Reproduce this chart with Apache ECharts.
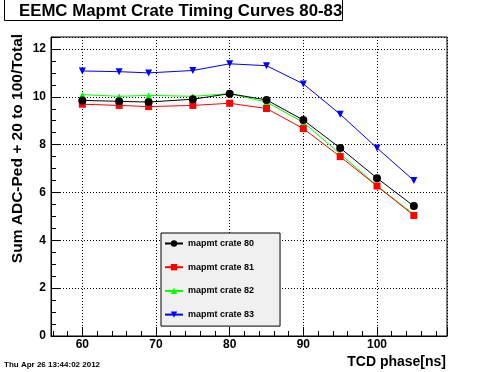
<!DOCTYPE html>
<html>
<head>
<meta charset="utf-8">
<script src="https://cdn.jsdelivr.net/npm/echarts@6/dist/echarts.min.js"></script>
<style>html,body{margin:0;padding:0;background:#fff}#c{width:496px;height:372px}</style>
</head>
<body>
<div id="c"></div>
<script>
const phase = [60, 65, 69, 75, 80, 85, 90, 95, 100, 105];
const crate80 = [9.85, 9.81, 9.78, 9.90, 10.13, 9.87, 9.03, 7.86, 6.60, 5.43];
const crate81 = [9.69, 9.64, 9.59, 9.64, 9.73, 9.51, 8.67, 7.50, 6.27, 5.04];
const crate82 = [10.09, 10.02, 10.06, 10.02, 10.13, 9.78, 8.93, 7.61, 6.28, 5.08];
const crate83 = [11.08, 11.05, 11.00, 11.10, 11.38, 11.30, 10.54, 9.27, 7.86, 6.50];
const seriesNames = ['mapmt crate 80', 'mapmt crate 81', 'mapmt crate 82', 'mapmt crate 83'];
const titleText = 'EEMC Mapmt Crate Timing Curves 80-83';
const yTitle = 'Sum ADC-Ped + 20 to 100/Total';
const xTitle = 'TCD phase[ns]';
const dateText = 'Thu Apr 26 13:44:02 2012';

const FONT = '"Liberation Sans", Arial, Helvetica, sans-serif';
const pairs = arr => phase.map((p, i) => [p, arr[i]]);
const styles = [
  {color: '#000000', symbol: 'circle', size: 8, rot: 0},
  {color: '#ff0000', symbol: 'rect', size: 7, rot: 0},
  {color: '#00ff00', symbol: 'triangle', size: 6, rot: 0},
  {color: '#0000ff', symbol: 'triangle', size: 7, rot: 180}
];
const datas = [crate80, crate81, crate82, crate83];

const chart = echarts.init(document.getElementById('c'), null, {renderer: 'canvas'});
chart.setOption({
  backgroundColor: '#ffffff',
  animation: false,
  title: {
    text: titleText,
    left: 4, top: -4,
    padding: [6, 0, 1, 15],
    borderColor: '#000', borderWidth: 1,
    textStyle: {fontFamily: FONT, fontWeight: 'bold', fontSize: 16.8, color: '#000', lineHeight: 18}
  },
  grid: {left: 51, right: 49, top: 37, bottom: 36, show: true, borderColor: '#000', borderWidth: 1, backgroundColor: 'transparent', containLabel: false},
  legend: {
    orient: 'vertical',
    left: 161, top: 233,
    padding: [6, 26, 7, 3],
    itemGap: 14.7,
    itemWidth: 18, itemHeight: 8,
    backgroundColor: '#f0f0f0',
    borderColor: '#000', borderWidth: 1, borderRadius: 0,
    textStyle: {fontFamily: FONT, fontWeight: 'bold', fontSize: 9, color: '#000'},
    data: seriesNames
  },
  xAxis: {
    type: 'value', min: 55.75, max: 109.5, splitNumber: 5,
    axisLine: {lineStyle: {color: '#000', width: 1}},
    axisTick: {inside: true, length: 9, lineStyle: {color: '#000'}},
    minorTick: {show: true, splitNumber: 5, length: 5, lineStyle: {color: '#000'}},
    splitLine: {show: true, lineStyle: {color: '#000', type: [1, 2], width: 1}},
    axisLabel: {fontFamily: FONT, fontWeight: 'bold', fontSize: 12, color: '#000', margin: 3, showMinLabel: false, showMaxLabel: false}
  },
  yAxis: {
    type: 'value', min: 0, max: 12.5, interval: 2,
    axisLine: {show: true, lineStyle: {color: '#000', width: 1}},
    axisTick: {show: true, inside: true, length: 9, lineStyle: {color: '#000'}},
    minorTick: {show: true, splitNumber: 4, length: 5, lineStyle: {color: '#000'}},
    splitLine: {show: true, lineStyle: {color: '#000', type: [1, 2], width: 1}},
    axisLabel: {fontFamily: FONT, fontWeight: 'bold', fontSize: 12, color: '#000', margin: 5, showMaxLabel: false}
  },
  graphic: [
    {type: 'text', left: 4, top: 361, style: {text: dateText, font: 'bold 8px ' + FONT, fill: '#000'}},
    {type: 'text', right: 50, top: 355, style: {text: xTitle, font: 'bold 14px ' + FONT, fill: '#000', textAlign: 'right'}},
    {type: 'text', x: 17.5, y: 148.5, rotation: Math.PI / 2, style: {text: yTitle, font: 'bold 15.5px ' + FONT, fill: '#000', align: 'center', verticalAlign: 'middle'}}
  ],
  series: datas.map((d, i) => ({
    name: seriesNames[i],
    type: 'line',
    data: pairs(d),
    symbol: styles[i].symbol,
    symbolSize: styles[i].size,
    symbolRotate: styles[i].rot,
    showAllSymbol: true,
    lineStyle: {color: styles[i].color, width: 1},
    itemStyle: {color: styles[i].color, borderWidth: 0},
    z: 2 + (3 - i)
  }))
});
</script>
</body>
</html>
